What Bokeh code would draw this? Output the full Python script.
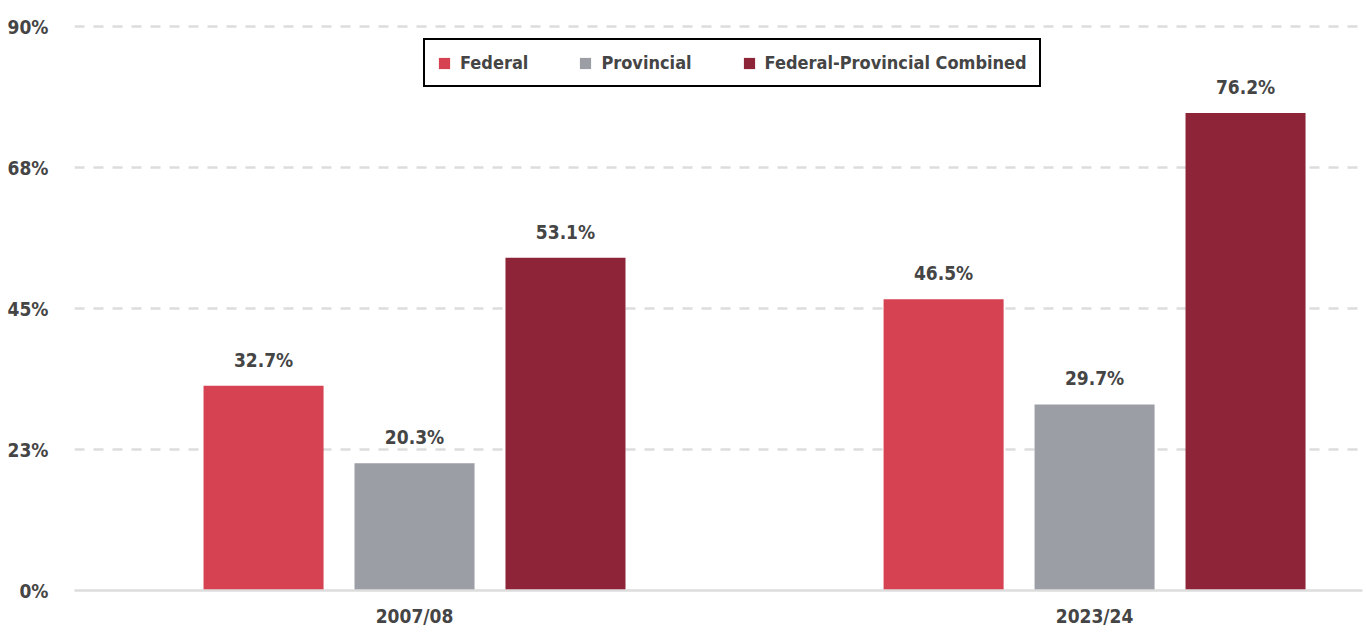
from bokeh.plotting import figure
from bokeh.models import ColumnDataSource, FixedTicker, Range1d, Legend, LegendItem
from bokeh.core.properties import value
from bokeh.embed import file_html
from bokeh.resources import INLINE

# ---- data ----
periods = ["2007/08", "2023/24"]
series = ["Federal", "Provincial", "Federal-Provincial Combined"]
federal = [32.7, 46.5]
provincial = [20.3, 29.7]
combined = [53.1, 76.2]
y_ticks = [0, 22.5, 45, 67.5, 90]
y_tick_labels = ["0%", "23%", "45%", "68%", "90%"]

# ---- style ----
colors = ["#D64251", "#9C9EA6", "#8E2438"]
FONT = "'DejaVu Sans Condensed', 'Roboto', sans-serif"
TEXT = "#454545"
offsets = [-0.222, 0.0, 0.222]
BAR_W = 0.1765

idx = list(range(len(periods)))

p = figure(width=1366, height=632, output_backend="svg", toolbar_location=None,
           x_range=Range1d(-0.5, 1.394), y_range=Range1d(0, 90.5),
           min_border_left=74, min_border_right=4, min_border_top=23,
           min_border_bottom=42)
p.outline_line_color = None
p.background_fill_color = "white"
p.border_fill_color = "white"

renderers = []
for vals, off, col in zip([federal, provincial, combined], offsets, colors):
    src = ColumnDataSource(dict(
        x=[i + off for i in idx],
        top=vals,
        label=[f"{v:.1f}%" for v in vals],
    ))
    r = p.vbar(x="x", top="top", width=BAR_W, source=src,
               fill_color=col, line_color=None)
    renderers.append(r)
    p.text(x="x", y="top", text="label", source=src,
           text_align="center", text_baseline="alphabetic", y_offset=-26,
           text_font=value(FONT), text_font_style="bold",
           text_font_size="19px", text_color=TEXT)

# x axis
p.xaxis.ticker = FixedTicker(ticks=idx)
p.xaxis.major_label_overrides = {i: lab for i, lab in zip(idx, periods)}
p.xaxis.axis_line_color = "#dddddd"
p.xaxis.axis_line_width = 2.5
p.xaxis.major_tick_line_color = None
p.xaxis.major_tick_out = 0
p.xaxis.major_tick_in = 0
p.xaxis.minor_tick_line_color = None
p.xaxis.minor_tick_out = 0
p.xaxis.major_label_standoff = 14
p.xaxis.major_label_text_font = FONT
p.xaxis.major_label_text_font_style = "bold"
p.xaxis.major_label_text_font_size = "19px"
p.xaxis.major_label_text_color = TEXT
p.xgrid.visible = False

# y axis
p.yaxis.ticker = FixedTicker(ticks=y_ticks)
p.yaxis.major_label_overrides = {t: lab for t, lab in zip(y_ticks, y_tick_labels)}
p.yaxis.axis_line_color = None
p.yaxis.major_tick_line_color = None
p.yaxis.major_tick_out = 0
p.yaxis.major_tick_in = 0
p.yaxis.minor_tick_line_color = None
p.yaxis.minor_tick_out = 0
p.yaxis.major_label_standoff = 26
p.yaxis.major_label_text_font = FONT
p.yaxis.major_label_text_font_style = "bold"
p.yaxis.major_label_text_font_size = "19px"
p.yaxis.major_label_text_color = TEXT
p.ygrid.grid_line_color = "#dddddd"
p.ygrid.grid_line_width = 2.5
p.ygrid.grid_line_dash = "10 9"

legend = Legend(
    items=[LegendItem(label=s, renderers=[r]) for s, r in zip(series, renderers)],
    location=(349, 503), orientation="horizontal",
    border_line_color="black", border_line_width=2, border_line_alpha=1,
    padding=12, spacing=50, margin=0,
    glyph_width=14, glyph_height=14, label_standoff=9, label_height=21,
    label_text_font=FONT, label_text_font_style="bold",
    label_text_font_size="18px", label_text_color=TEXT,
    background_fill_color="white", background_fill_alpha=1,
)
p.add_layout(legend, "center")

open("out.html", "w").write(file_html(p, INLINE))
